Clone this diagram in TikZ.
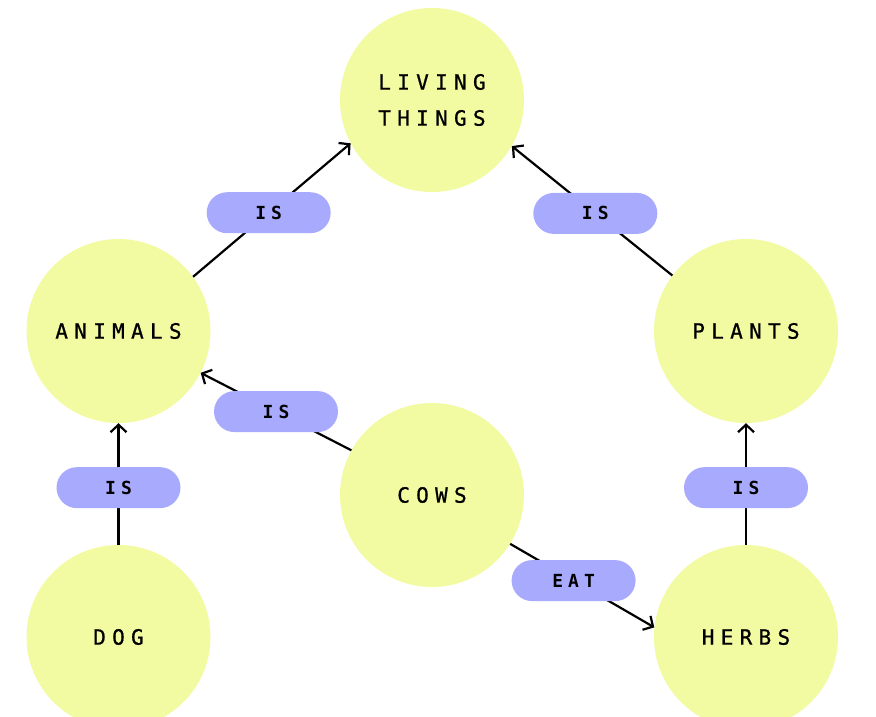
\documentclass[tikz,border=0pt]{standalone}
\usepackage{fontspec}
\usetikzlibrary{arrows.meta,shapes.misc}
\newfontfamily\nodefont[LetterSpace=30,FakeBold=0.9]{DejaVu Sans Mono}
\newfontfamily\pillfont[LetterSpace=28]{DejaVu Sans Mono Bold}
\definecolor{circfill}{HTML}{F2FBA1}
\definecolor{pillfill}{HTML}{A8AAFE}
\tikzset{
  concept/.style={circle, fill=circfill, minimum size=184pt, inner sep=0pt,
    font=\nodefont\fontsize{21pt}{36pt}\selectfont, align=center, text=black},
  pill/.style={rounded rectangle, fill=pillfill, minimum width=124pt, minimum height=41pt,
    inner sep=0pt, font=\pillfont\fontsize{18pt}{18pt}\selectfont, text=black},
  link/.style={line width=2.2pt, black},
  arr/.style={link, -{Straight Barb[length=7.5pt,width=16pt,line width=2.2pt]}}
}
\begin{document}
\begin{tikzpicture}[x=1pt,y=-1pt]
\useasboundingbox (0,0) rectangle (876,717);
\node[concept] (living) at (432,100) {LIVING\\THINGS};
\node[concept] (animals) at (118.5,331) {ANIMALS};
\node[concept] (plants) at (746,331) {PLANTS};
\node[concept] (cows) at (432,495) {COWS};
\node[concept] (dog) at (118.5,637) {DOG};
\node[concept] (herbs) at (746,637) {HERBS};

\draw[arr] (animals.36.5) -- node[pill, pos=0.48] (is1) {IS} (living.208.8);
\draw[arr] (plants.143.5) -- node[pill, pos=0.48] (is2) {IS} (living.330.6);
\draw[arr] (cows.151.7) -- node[pill] (is3) {IS} (animals.333.7);
\draw[arr] (dog.north) -- node[pill, pos=0.47] (is4) {IS} (animals.south);
\draw[arr] (herbs.north) -- node[pill, pos=0.47] (is5) {IS} (plants.south);
\draw[arr] (cows.-32) -- node[pill, pos=0.44] (eat) {EAT} (herbs.174);
\end{tikzpicture}
\end{document}
